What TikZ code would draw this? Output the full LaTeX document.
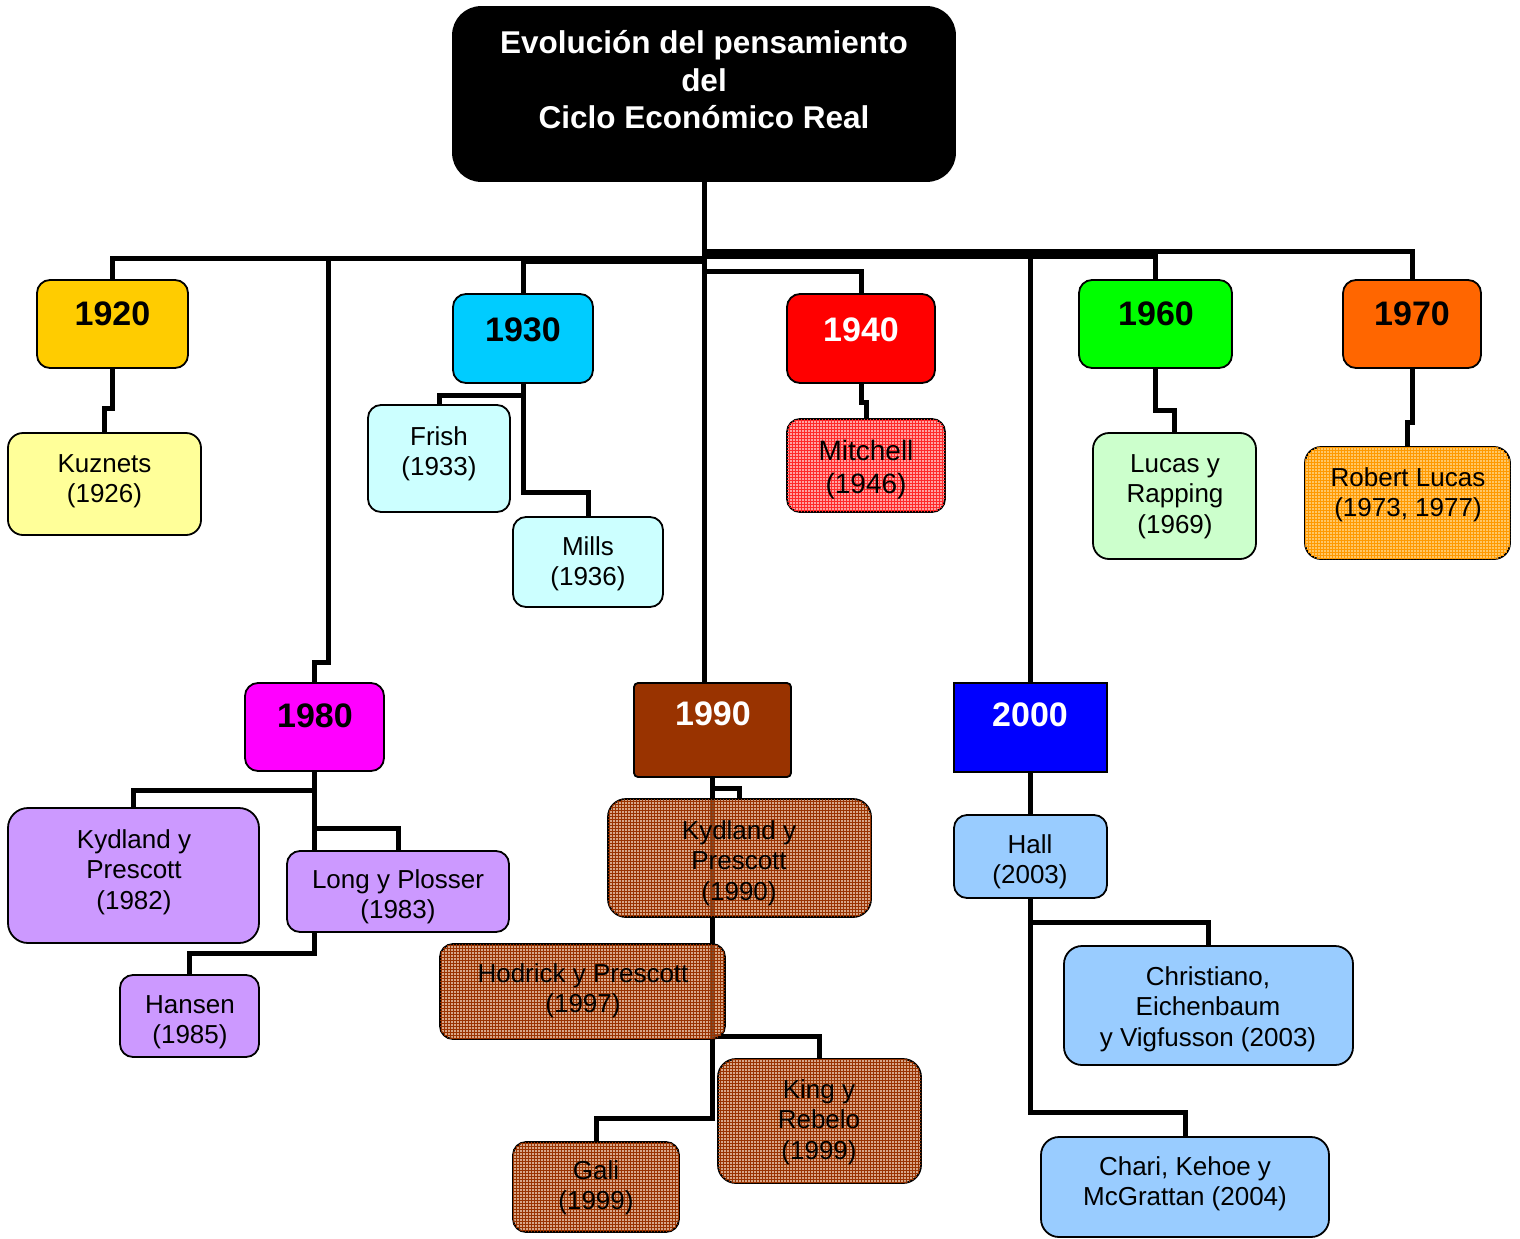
\documentclass[tikz,border=0pt]{standalone}
\usepackage{fontspec}
\setmainfont{Liberation Sans}
\usetikzlibrary{backgrounds,patterns}
\definecolor{c1920}{HTML}{FFCC00}
\definecolor{c1920b}{HTML}{FFFF99}
\definecolor{c1930}{HTML}{00CCFF}
\definecolor{c1930b}{HTML}{CCFFFF}
\definecolor{c1940}{HTML}{FF0000}
\definecolor{c1940b}{HTML}{FF8C8C}
\definecolor{c1940p}{HTML}{FF2A2A}
\definecolor{c1960}{HTML}{00FF00}
\definecolor{c1960b}{HTML}{CCFFCC}
\definecolor{c1970}{HTML}{FF6600}
\definecolor{c1970b}{HTML}{FFB940}
\definecolor{c1970p}{HTML}{FF9900}
\definecolor{c1980}{HTML}{FF00FF}
\definecolor{c1980b}{HTML}{CC99FF}
\definecolor{c1990}{HTML}{993300}
\definecolor{c1990b}{HTML}{C4784A}
\definecolor{c1990p}{HTML}{993300}
\definecolor{c2000}{HTML}{0000FF}
\definecolor{c2000b}{HTML}{99CCFF}
\begin{document}
\begin{tikzpicture}[x=1pt,y=-1pt,
  box/.style={draw=black, line width=1.8pt, rounded corners=13pt, inner sep=0pt, outer sep=0pt},
  conn/.style={line width=5pt, black, line join=miter},
  yr/.style={font=\bfseries\fontsize{34}{40}\selectfont, anchor=base, inner sep=0pt},
  txt/.style={font=\fontsize{26}{30.5}\selectfont, anchor=north, align=center, inner sep=0pt},
  pat/.style 2 args={fill=#1, fill opacity=0.8, postaction={pattern=grid, pattern color=#2, fill opacity=1}},
  patb/.style={fill=c1990b, fill opacity=0.65, postaction={pattern=grid, pattern color=c1990p, fill opacity=1}}]
\useasboundingbox (0,0) rectangle (1520,1239);

% title
\node[box, rounded corners=28pt, fill=black, minimum width=502pt, minimum height=174pt] (title) at (704,94) {};
\node[anchor=north, align=center, inner sep=0pt, text=white, font=\bfseries\fontsize{31.5}{37.5}\selectfont] (title-t) at (704,53.5-24) {\rule{0pt}{24pt}Evolución del pensamiento\\del\\Ciclo Económico Real};

% decade boxes
\node[box, fill=c1920, minimum width=151pt, minimum height=88pt] (y1920) at (112.5,324) {};
\node[box, fill=c1930, minimum width=140pt, minimum height=89pt] (y1930) at (523,338.5) {};
\node[box, fill=c1940, minimum width=148pt, minimum height=89pt] (y1940) at (861,338.5) {};
\node[box, fill=c1960, minimum width=153pt, minimum height=88pt] (y1960) at (1155.5,324) {};
\node[box, fill=c1970, minimum width=138pt, minimum height=88pt] (y1970) at (1412,324) {};
\node[box, fill=c1980, minimum width=139pt, minimum height=88pt] (y1980) at (314.5,727) {};
\node[box, rounded corners=4pt, fill=c1990, minimum width=157pt, minimum height=94pt] (y1990) at (712.5,730) {};
\node[box, rounded corners=0pt, fill=c2000, minimum width=153pt, minimum height=89pt] (y2000) at (1030.5,727.5) {};

\node[yr] (t1920) at (112.5,325) {1920};
\node[yr] (t1930) at (523,341) {1930};
\node[yr, text=white] (t1940) at (861,341) {1940};
\node[yr] (t1960) at (1156,325) {1960};
\node[yr] (t1970) at (1412,325) {1970};
\node[yr] (t1980) at (315,727) {1980};
\node[yr, text=white] (t1990) at (713,725) {1990};
\node[yr, text=white] (t2000) at (1030,726) {2000};

% author boxes
\node[box, rounded corners=15pt, fill=c1920b, minimum width=193pt, minimum height=102pt] (kuz) at (104.5,484) {};
\node[box, fill=c1930b, minimum width=142pt, minimum height=107pt] (frish) at (439,458.5) {};
\node[box, fill=c1930b, minimum width=150pt, minimum height=90pt] (mills) at (588,562) {};
\node[box, pat={c1940b}{c1940p}, minimum width=158pt, minimum height=93pt] (mitch) at (866,465.5) {};
\node[box, rounded corners=16pt, fill=c1960b, minimum width=163pt, minimum height=126pt] (lucas) at (1174.5,496) {};
\node[box, rounded corners=16pt, pat={c1970b}{c1970p}, minimum width=205pt, minimum height=112pt] (robert) at (1407.5,503) {};
\node[box, rounded corners=20pt, fill=c1980b, minimum width=251pt, minimum height=135pt] (kyd82) at (133.5,875.5) {};
\node[box, fill=c1980b, minimum width=222pt, minimum height=81pt] (long) at (398,891.5) {};
\node[box, fill=c1980b, minimum width=139pt, minimum height=82pt] (hansen) at (189.5,1016) {};
\node[box, rounded corners=18pt, patb, minimum width=263pt, minimum height=118pt] (kyd90) at (739.5,858) {};
\node[box, patb, minimum width=285pt, minimum height=95pt] (hodrick) at (582.5,991.5) {};
\node[box, rounded corners=18pt, patb, minimum width=203pt, minimum height=124pt] (king) at (819.5,1121) {};
\node[box, patb, minimum width=166pt, minimum height=90pt] (gali) at (596,1187) {};
\node[box, fill=c2000b, minimum width=153pt, minimum height=83pt] (hall) at (1030.5,856.5) {};
\node[box, rounded corners=18pt, fill=c2000b, minimum width=289pt, minimum height=119pt] (christ) at (1208.5,1005.5) {};
\node[box, rounded corners=18pt, fill=c2000b, minimum width=288pt, minimum height=100pt] (chari) at (1185,1187) {};

% author texts (first baseline - 20)
\node[txt] (kuz-t) at (104.5,472-20) {\rule{0pt}{20pt}Kuznets\\(1926)};
\node[txt] (frish-t) at (439,445-20) {\rule{0pt}{20pt}Frish\\(1933)};
\node[txt] (mills-t) at (588,555-20) {\rule{0pt}{20pt}Mills\\(1936)};
\node[txt, font=\fontsize{28}{33}\selectfont] (mitch-t) at (866,460-21) {\rule{0pt}{21pt}Mitchell\\(1946)};
\node[txt] (lucas-t) at (1175,472-20) {\rule{0pt}{20pt}Lucas y\\Rapping\\(1969)};
\node[txt] (robert-t) at (1408,486-20) {\rule{0pt}{20pt}Robert Lucas\\(1973, 1977)};
\node[txt] (kyd82-t) at (134,848-20) {\rule{0pt}{20pt}Kydland y\\Prescott\\(1982)};
\node[txt] (long-t) at (398,888-20) {\rule{0pt}{20pt}Long y Plosser\\(1983)};
\node[txt] (hansen-t) at (190,1013-20) {\rule{0pt}{20pt}Hansen\\(1985)};
\node[txt] (kyd90-t) at (739,839-20) {\rule{0pt}{20pt}Kydland y\\Prescott\\(1990)};
\node[txt] (hodrick-t) at (583,982-20) {\rule{0pt}{20pt}Hodrick y Prescott\\(1997)};
\node[txt] (king-t) at (819,1098-20) {\rule{0pt}{20pt}King y\\Rebelo\\(1999)};
\node[txt] (gali-t) at (596,1179-20) {\rule{0pt}{20pt}Gali\\(1999)};
\node[txt] (hall-t) at (1030,853-20) {\rule{0pt}{20pt}Hall\\(2003)};
\node[txt] (christ-t) at (1208,985-20) {\rule{0pt}{20pt}Christiano,\\Eichenbaum\\y Vigfusson (2003)};
\node[txt] (chari-t) at (1185,1175-20) {\rule{0pt}{20pt}Chari, Kehoe y\\McGrattan (2004)};

% connectors (behind the boxes)
\begin{pgfonlayer}{background}
\fill[white] (0,0) rectangle (1520,1239);
\draw[conn] (title.south) -- (title.south |- y1990.north);
\draw[conn] (title.south) ++(0,77) -| (y1920.north);
\draw[conn] (title.south) ++(0,80) -| (y1930.north);
\draw[conn] (title.south) ++(0,90) -| (y1940.north);
\draw[conn] (title.south) ++(0,75) -| (y1960.north);
\draw[conn] (title.south) ++(0,70) -| (y1970.north);
\draw[conn] (title.south) ++(0,70) -| (y2000.north);
\draw[conn] (title.south) ++(0,77) -| (328,662) -| (y1980.north);
\draw[conn] (y1920.south) -- ++(0,40) -| (kuz.north);
\draw[conn] (y1930.south) -- ++(0,12) -| (frish.north);
\draw[conn] (y1930.south) -- ++(0,109) -| (mills.north);
\draw[conn] (y1940.south) -- ++(0,19) -| (mitch.north);
\draw[conn] (y1960.south) -- ++(0,42) -| (lucas.north);
\draw[conn] (y1970.south) -- ++(0,54) -| (robert.north);
\draw[conn] (y1980.south) -- ++(0,19) -| (kyd82.north);
\draw[conn] (y1980.south) -- (y1980.south |- long.north);
\draw[conn] (y1980.south) ++(0,57) -| (long.north);
\draw[conn] (long.south -| y1980.south) -- ++(0,21) -| (hansen.north);
\draw[conn] (y1990.south) -- ++(0,11) -| (kyd90.north);
\draw[conn] (y1990.south) -- ++(0,341) -| (gali.north);
\draw[conn] (y1990.south) ++(0,259) -| (king.north);
\draw[conn] (y2000.south) -- (hall.north);
\draw[conn] (hall.south) -- ++(0,24) -| (christ.north);
\draw[conn] (hall.south) -- ++(0,214) -| (chari.north);
\end{pgfonlayer}
\end{tikzpicture}
\end{document}
